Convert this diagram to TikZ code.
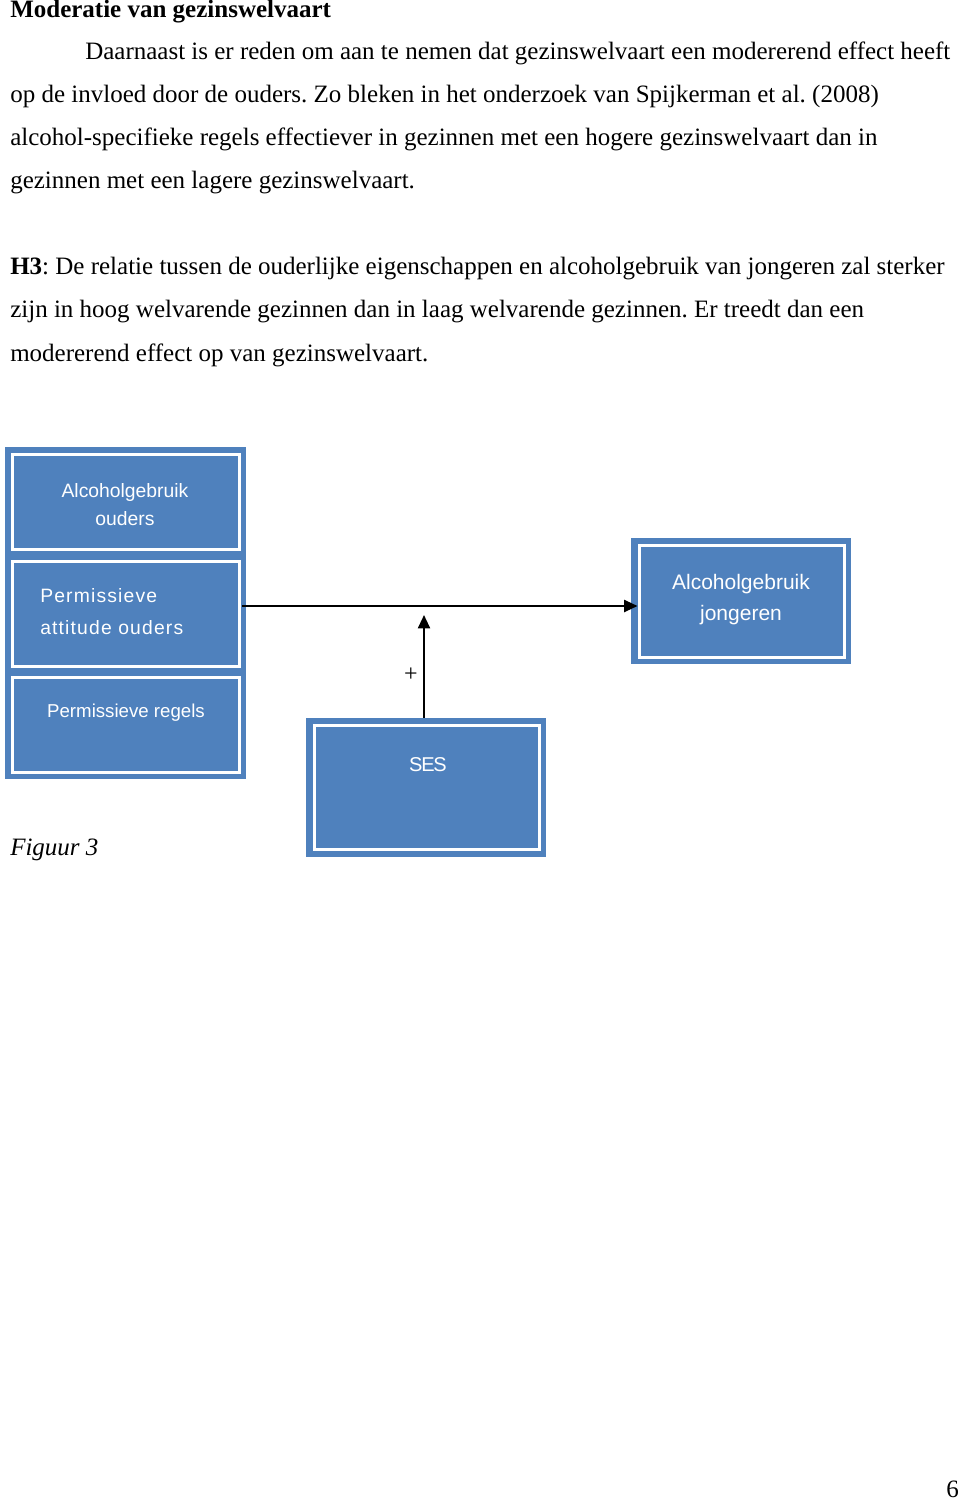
\documentclass[tikz,border=0pt]{standalone}
\usepackage{fontspec}
\setmainfont{Liberation Serif}
\newfontfamily\boxfont{Liberation Sans}
\usetikzlibrary{arrows.meta,fit}
\definecolor{boxblue}{RGB}{79,129,189}
\frenchspacing
\begin{document}
\begin{tikzpicture}[x=0.75pt,y=-0.75pt,
  body/.style={anchor=base west, inner sep=0pt, font=\fontsize{18.75}{22}\selectfont},
  outerbox/.style={fill=boxblue, inner sep=0pt, draw=none},
  innerbox/.style={fill=boxblue, draw=white, line width=2.25pt, inner sep=0pt},
  boxtext/.style={text=white, inner sep=0pt, anchor=base},
  conn/.style={line width=1.5pt, -{Triangle[length=10pt,width=9pt]}}
]
\useasboundingbox (0,0) rectangle (960,1501);
% text
\node[body] (title) at (10,18) {\textbf{Moderatie van gezinswelvaart}};
\node[body] (p1) at (85,60) {Daarnaast is er reden om aan te nemen dat gezinswelvaart een modererend effect heeft};
\node[body] (p2) at (10,103) {op de invloed door de ouders. Zo bleken in het onderzoek van Spijkerman et al. (2008)};
\node[body] (p3) at (10,146) {alcohol-specifieke regels effectiever in gezinnen met een hogere gezinswelvaart dan in};
\node[body] (p4) at (10,189) {gezinnen met een lagere gezinswelvaart.};
\node[body] (h1) at (10,275) {\textbf{H3}: De relatie tussen de ouderlijke eigenschappen en alcoholgebruik van jongeren zal sterker};
\node[body] (h2) at (10,318) {zijn in hoog welvarende gezinnen dan in laag welvarende gezinnen. Er treedt dan een};
\node[body] (h3) at (10,361) {modererend effect op van gezinswelvaart.};
\node[body] (fig) at (10,855) {\textit{Figuur 3}};
\node[body] (page) at (946,1497) {6};
% left group
\node[outerbox, fit={(5,447) (246,779)}] (lgroup) {};
\node[innerbox, fit={(12,454) (239,549)}] (box1) {};
\node[innerbox, fit={(12,561) (239,666)}] (box2) {};
\node[innerbox, fit={(12,677) (239,772)}] (box3) {};
\node[boxtext, align=center, font=\boxfont\fontsize{14.5}{21}\selectfont] (t1) at (125,525) {Alcoholgebruik\\ouders};
\node[boxtext, anchor=base west, align=left, font=\boxfont\fontsize{14.5}{24}\selectfont\addfontfeature{LetterSpace=6}] (t2) at (40,634) {Permissieve\\attitude ouders};
\node[boxtext, font=\boxfont\fontsize{14}{17}\selectfont] (t3) at (126,717) {Permissieve regels};
% right box
\node[outerbox, fit={(631,538) (851,664)}] (rbox) {};
\node[innerbox, fit={(639,545) (844,657)}] (rin) {};
\node[boxtext, align=center, font=\boxfont\fontsize{15.75}{23.25}\selectfont] (t4) at (741,620) {Alcoholgebruik\\jongeren};
% SES box
\node[outerbox, fit={(306,718) (546,857)}] (sbox) {};
\node[innerbox, fit={(314,725) (539,849)}] (sin) {};
\node[boxtext, font=\boxfont\fontsize{15}{18}\selectfont\addfontfeature{LetterSpace=-6}] (t5) at (428,771) {SES};
% connectors
\coordinate (src) at (242,606);
\draw[conn] (src) -- (src -| rin.west);
\coordinate (modtip) at (424,615);
\draw[conn] (modtip |- sbox.north) -- (modtip);
\node[inner sep=0pt, font=\fontsize{18}{20}\selectfont] (plus) at (411,675) {+};
\end{tikzpicture}
\end{document}
